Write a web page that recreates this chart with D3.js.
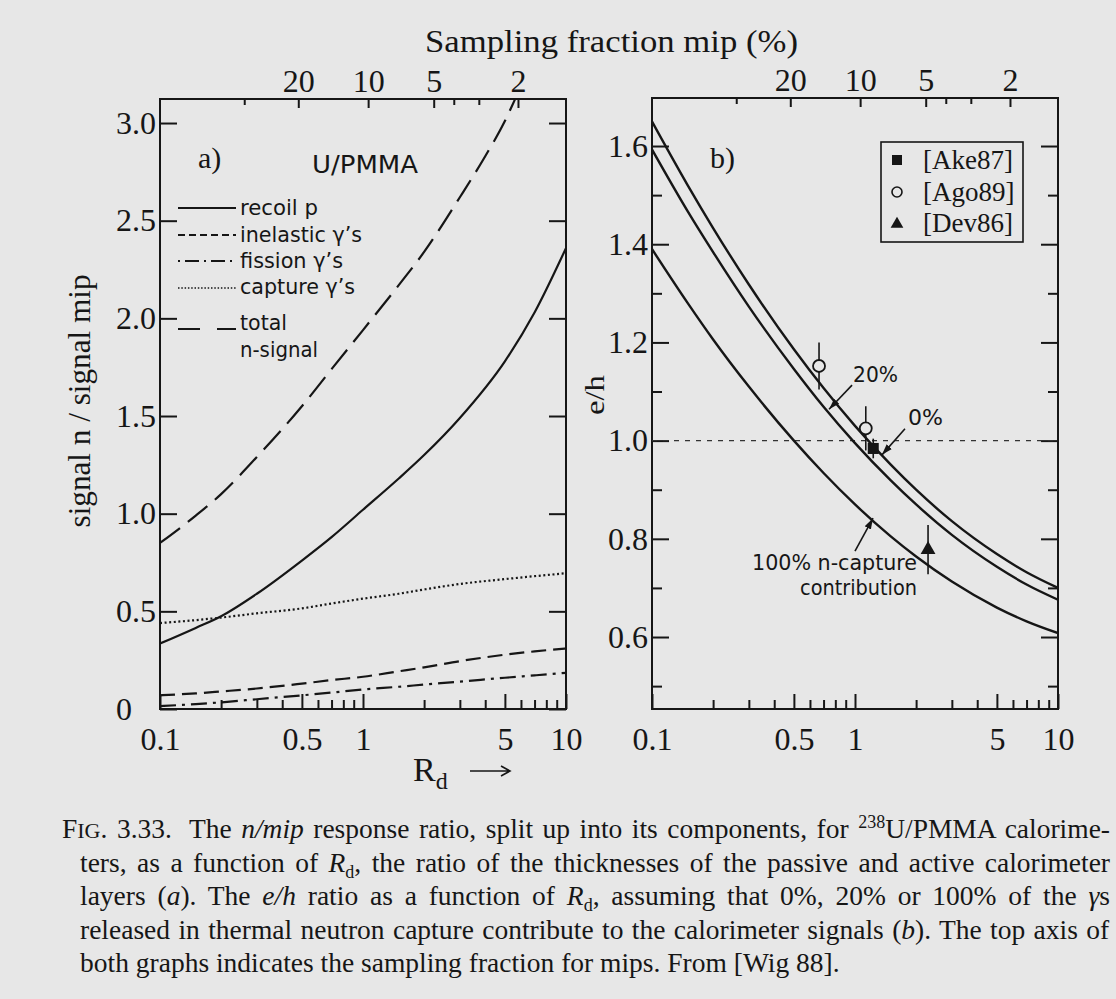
<!DOCTYPE html>
<html lang="en">
<head>
<meta charset="utf-8">
<title>n/mip components and e/h versus Rd</title>
<script src="https://d3js.org/d3.v7.min.js"></script>
<style>
  body { margin: 0; background: #e7e7e7; }
  svg { display: block; }
  .serif { font-family: "Liberation Serif", "Times New Roman", serif; fill: #161616; }
  .tech { font-family: "DejaVu Sans Condensed", "DejaVu Sans", sans-serif; fill: #161616; }
</style>
</head>
<body>
<svg id="chart" width="1116" height="999"></svg>
<script>
// ---------- values ----------
const rdGrid = [0.1, 0.15, 0.2, 0.3, 0.5, 0.7, 1, 1.5, 2, 3, 5, 7, 10];

// panel a) signal n / signal mip
const recoilP   = [0.335, 0.415, 0.475, 0.59, 0.76, 0.88, 1.02, 1.18, 1.3, 1.49, 1.78, 2.03, 2.36];
const inelastic = [0.07, 0.08, 0.09, 0.105, 0.13, 0.148, 0.165, 0.193, 0.213, 0.245, 0.278, 0.295, 0.31];
const fission   = [0.015, 0.025, 0.034, 0.05, 0.07, 0.084, 0.1, 0.114, 0.125, 0.14, 0.16, 0.172, 0.185];
const capture   = [0.44, 0.455, 0.468, 0.49, 0.515, 0.54, 0.565, 0.59, 0.612, 0.64, 0.665, 0.68, 0.695];
const totalRd   = [0.1, 0.15, 0.2, 0.3, 0.5, 0.7, 1, 1.5, 2, 3, 4, 5, 5.6];
const totalN    = [0.85, 0.99, 1.1, 1.29, 1.55, 1.74, 1.94, 2.17, 2.34, 2.62, 2.83, 3.01, 3.12];

// panel b) e/h for 0 %, 20 %, 100 % n-capture contribution
const eh0   = [1.65, 1.52, 1.433, 1.318, 1.186, 1.107, 1.03, 0.951, 0.9, 0.836, 0.769, 0.732, 0.70];
const eh20  = [1.593, 1.467, 1.384, 1.273, 1.146, 1.069, 0.995, 0.919, 0.87, 0.808, 0.743, 0.707, 0.676];
const eh100 = [1.39, 1.28, 1.206, 1.11, 1.0, 0.934, 0.87, 0.805, 0.764, 0.713, 0.66, 0.632, 0.608];

// measurements: [Rd, e/h, error]
const ake87 = [[1.23, 0.984, 0.02]];
const ago89 = [[0.665, 1.152, 0.048], [1.13, 1.025, 0.045]];
const dev86 = [[2.29, 0.778, 0.05]];

// axes
const bottomMajor = [0.1, 0.5, 1, 5, 10];
const bottomMinor = [0.2, 0.3, 0.4, 0.6, 0.7, 0.8, 0.9, 2, 3, 4, 6, 7, 8, 9];
const topTickLabels = ["20", "10", "5", "2"];
const topTickRd = [0.48, 1.06, 2.23, 5.8];
const topMinorRd = [0.26, 2.8, 3.72];
const yTicksA = [0, 0.5, 1, 1.5, 2, 2.5, 3];
const yTicksB = [0.6, 0.8, 1.0, 1.2, 1.4, 1.6];
const yMinorB = [0.5, 0.7, 0.9, 1.1, 1.3, 1.5];

const legendNames = ["recoil p", "inelastic γ’s", "fission γ’s", "capture γ’s", "total"];
const refNames = ["[Ake87]", "[Ago89]", "[Dev86]"];

// ---------- drawing ----------
const ink = "#161616";
const bg = "#e7e7e7";
const svg = d3.select("#chart");
svg.append("rect").attr("width", 1116).attr("height", 999).attr("fill", bg);

const xA = d3.scaleLog().domain([0.1, 10]).range([160, 566]);
const yA = d3.scaleLinear().domain([0, 3.123]).range([709, 99]);
const xB = d3.scaleLog().domain([0.1, 10]).range([652, 1058]);
const yB = d3.scaleLinear().domain([0.4534, 1.6978]).range([709, 98]);

svg.append("defs").append("marker")
    .attr("id", "head")
    .attr("markerUnits", "userSpaceOnUse")
    .attr("markerWidth", 12).attr("markerHeight", 8)
    .attr("refX", 11).attr("refY", 4)
    .attr("orient", "auto")
  .append("path").attr("d", "M0,0.5 L11,4 L0,7.5 Z").attr("fill", ink);

function frame(x, y, id, yMajor, yMinor, yFmt) {
    const [X0, X1] = x.range();
    const [Y1, Y0] = y.range();
    const g = svg.append("g").attr("color", ink);

    g.append("g").attr("transform", `translate(0,${Y1})`)
        .call(d3.axisBottom(x).tickValues(bottomMajor).tickSize(-15).tickPadding(18).tickFormat(d => String(d)));
    g.append("g").attr("transform", `translate(0,${Y1})`)
        .call(d3.axisBottom(x).tickValues(bottomMinor).tickSize(-9).tickFormat(""));
    g.append("g").attr("transform", `translate(0,${Y0})`)
        .call(d3.axisTop(x).tickValues(topTickRd).tickSize(-9).tickPadding(7).tickFormat((d, i) => topTickLabels[i]));
    g.append("g").attr("transform", `translate(0,${Y0})`)
        .call(d3.axisTop(x).tickValues(topMinorRd).tickSize(-6).tickFormat(""));

    const left = g.append("g").attr("transform", `translate(${X0},0)`)
        .call(d3.axisLeft(y).tickValues(yMajor).tickSize(-17).tickFormat(yFmt));
    left.selectAll("text").attr("x", -44).attr("text-anchor", "start");
    g.append("g").attr("transform", `translate(${X1},0)`)
        .call(d3.axisRight(y).tickValues(yMajor).tickSize(-17).tickFormat(""));
    if (yMinor) {
        g.append("g").attr("transform", `translate(${X0},0)`)
            .call(d3.axisLeft(y).tickValues(yMinor).tickSize(-10).tickFormat(""));
        g.append("g").attr("transform", `translate(${X1},0)`)
            .call(d3.axisRight(y).tickValues(yMinor).tickSize(-10).tickFormat(""));
    }
    g.selectAll(".domain").remove();
    g.selectAll(".tick line").attr("stroke-width", 2);
    g.selectAll("text").attr("class", "serif").attr("font-size", 32);

    svg.append("rect")
        .attr("x", X0).attr("y", Y0).attr("width", X1 - X0).attr("height", Y1 - Y0)
        .attr("fill", "none").attr("stroke", ink).attr("stroke-width", 2);

    svg.append("clipPath").attr("id", id)
      .append("rect").attr("x", X0).attr("y", Y0).attr("width", X1 - X0).attr("height", Y1 - Y0);
}

frame(xA, yA, "clipA", yTicksA, null, d => d === 0 ? "0" : d3.format(".1f")(d));
frame(xB, yB, "clipB", yTicksB, yMinorB, d3.format(".1f"));

// ---------- panel a ----------
const lineA = d3.line().x(d => xA(d[0])).y(d => yA(d[1])).curve(d3.curveMonotoneX);
const seriesA = [
    { v: d3.zip(rdGrid, recoilP),   dash: null },
    { v: d3.zip(rdGrid, inelastic), dash: "15,7" },
    { v: d3.zip(rdGrid, fission),   dash: "16,6,3,6" },
    { v: d3.zip(rdGrid, capture),   dash: "2,2.6" },
    { v: d3.zip(totalRd, totalN),   dash: "25,10" }
];
svg.append("g").attr("clip-path", "url(#clipA)")
  .selectAll("path").data(seriesA).join("path")
    .attr("d", d => lineA(d.v))
    .attr("fill", "none").attr("stroke", ink).attr("stroke-width", 2.2)
    .attr("stroke-dasharray", d => d.dash);

svg.append("text").attr("class", "serif").attr("x", 198).attr("y", 168).attr("font-size", 30).text("a)");
svg.append("text").attr("class", "tech").attr("x", 312).attr("y", 173).attr("font-size", 24)
    .attr("textLength", 106).attr("lengthAdjust", "spacingAndGlyphs").text("U/PMMA");

// legend a
const legDash = [null, "7,4", "2,5,14,5", "1.5,1.8", "22,17,22"];
const legLineY = [208, 235, 261, 288, 329];
const legTextY = [215, 242, 268, 294, 330];
const legTextW = [78, 122, 103, 115, 47];
const legA = svg.append("g");
legendNames.forEach((name, i) => {
    legA.append("line").attr("x1", 178).attr("x2", 236).attr("y1", legLineY[i]).attr("y2", legLineY[i])
        .attr("stroke", ink).attr("stroke-width", i === 3 ? 1.6 : 2).attr("stroke-dasharray", legDash[i]);
    legA.append("text").attr("class", "tech").attr("x", 240).attr("y", legTextY[i]).attr("font-size", 21)
        .attr("textLength", legTextW[i]).attr("lengthAdjust", "spacingAndGlyphs").text(name);
});
legA.append("text").attr("class", "tech").attr("x", 240).attr("y", 357).attr("font-size", 21)
    .attr("textLength", 78).attr("lengthAdjust", "spacingAndGlyphs").text("n-signal");

// ---------- panel b ----------
const lineB = d3.line().x(d => xB(d[0])).y(d => yB(d[1])).curve(d3.curveMonotoneX);
svg.append("line")
    .attr("x1", xB(0.1)).attr("x2", xB(10)).attr("y1", yB(1)).attr("y2", yB(1))
    .attr("stroke", "#333").attr("stroke-width", 1.3).attr("stroke-dasharray", "5,6");
svg.append("g").attr("clip-path", "url(#clipB)")
  .selectAll("path").data([eh0, eh20, eh100]).join("path")
    .attr("d", d => lineB(d3.zip(rdGrid, d)))
    .attr("fill", "none").attr("stroke", ink).attr("stroke-width", 2.4);

const pts = svg.append("g");
const allPts = [...ake87, ...ago89, ...dev86];
pts.selectAll("line.err").data(allPts).join("line")
    .attr("x1", d => xB(d[0])).attr("x2", d => xB(d[0]))
    .attr("y1", d => yB(d[1] - d[2])).attr("y2", d => yB(d[1] + d[2]))
    .attr("stroke", ink).attr("stroke-width", 1.6);
pts.selectAll("rect.ake").data(ake87).join("rect")
    .attr("x", d => xB(d[0]) - 5.5).attr("y", d => yB(d[1]) - 5.5)
    .attr("width", 11).attr("height", 11).attr("fill", ink);
pts.selectAll("circle.ago").data(ago89).join("circle")
    .attr("cx", d => xB(d[0])).attr("cy", d => yB(d[1])).attr("r", 6)
    .attr("fill", bg).attr("stroke", ink).attr("stroke-width", 1.8);
pts.selectAll("path.dev").data(dev86).join("path")
    .attr("d", d3.symbol(d3.symbolTriangle, 95))
    .attr("transform", d => `translate(${xB(d[0])},${yB(d[1])})`)
    .attr("fill", ink);

svg.append("text").attr("class", "serif").attr("x", 710).attr("y", 168).attr("font-size", 30).text("b)");

// annotations in data coordinates
const notes = [
    { t: "20%", rd: 0.978, v: 1.119, w: 45 },
    { t: "0%", rd: 1.825, v: 1.032, w: 35 },
    { t: "100% n-capture", rd: 0.311, v: 0.736, w: 165 },
    { t: "contribution", rd: 0.536, v: 0.686, w: 117 }
];
svg.selectAll("text.note").data(notes).join("text")
    .attr("class", "tech").attr("x", d => xB(d.rd)).attr("y", d => yB(d.v)).attr("font-size", 22)
    .attr("textLength", d => d.w).attr("lengthAdjust", "spacingAndGlyphs").text(d => d.t);
const arrows = [
    { from: [0.967, 1.113], to: [0.745, 1.064] },
    { from: [1.763, 1.024], to: [1.358, 0.971] },
    { from: [1.0, 0.775], to: [1.227, 0.842] }
];
svg.selectAll("line.arrow").data(arrows).join("line")
    .attr("x1", d => xB(d.from[0])).attr("y1", d => yB(d.from[1]))
    .attr("x2", d => xB(d.to[0])).attr("y2", d => yB(d.to[1]))
    .attr("stroke", ink).attr("stroke-width", 1.6).attr("marker-end", "url(#head)");

// legend b
const legB = svg.append("g");
legB.append("rect").attr("x", 881).attr("y", 142).attr("width", 142).attr("height", 100)
    .attr("fill", "none").attr("stroke", ink).attr("stroke-width", 1.6);
legB.append("rect").attr("x", 892).attr("y", 155).attr("width", 10).attr("height", 10).attr("fill", ink);
legB.append("circle").attr("cx", 897).attr("cy", 192).attr("r", 5)
    .attr("fill", "none").attr("stroke", ink).attr("stroke-width", 1.6);
legB.append("path").attr("d", d3.symbol(d3.symbolTriangle, 70)).attr("transform", "translate(897,224)").attr("fill", ink);
refNames.forEach((n, i) => {
    legB.append("text").attr("class", "serif").attr("x", 923).attr("y", 169 + i * 31.5)
        .attr("font-size", 27).text(n);
});

// ---------- axis titles ----------
svg.append("text").attr("class", "serif").attr("x", 425).attr("y", 52).attr("font-size", 31)
    .attr("textLength", 373).attr("lengthAdjust", "spacingAndGlyphs").text("Sampling fraction mip (%)");
svg.append("text").attr("class", "serif").attr("transform", "translate(90,401) rotate(-90)")
    .attr("text-anchor", "middle").attr("font-size", 31)
    .attr("textLength", 253).attr("lengthAdjust", "spacingAndGlyphs").text("signal n / signal mip");
svg.append("text").attr("class", "serif").attr("transform", "translate(604,395) rotate(-90)")
    .attr("text-anchor", "middle").attr("font-size", 28)
    .attr("textLength", 40).attr("lengthAdjust", "spacingAndGlyphs").text("e/h");
const rdLab = svg.append("text").attr("class", "serif").attr("x", 413).attr("y", 781).attr("font-size", 34);
rdLab.append("tspan").text("R");
rdLab.append("tspan").attr("dy", 8).attr("font-size", 24).text("d");
svg.append("path").attr("d", "M470,771 H509 M501,766 L510,771 L501,776")
    .attr("fill", "none").attr("stroke", ink).attr("stroke-width", 1.6);

// ---------- caption ----------
const captionLines = [
    [{ t: "F" }, { t: "IG", sc: true }, { t: ". 3.33." }, { t: " The ", gap: 8 }, { t: "n/mip", i: true },
     { t: " response ratio, split up into its components, for " }, { t: "238", sup: true }, { t: "U/PMMA calorime-" }],
    [{ t: "ters, as a function of " }, { t: "R", i: true }, { t: "d", sub: true },
     { t: ", the ratio of the thicknesses of the passive and active calorimeter" }],
    [{ t: "layers (" }, { t: "a", i: true }, { t: "). The " }, { t: "e/h", i: true }, { t: " ratio as a function of " },
     { t: "R", i: true }, { t: "d", sub: true }, { t: ", assuming that 0%, 20% or 100% of the " }, { t: "γ", i: true }, { t: "s" }],
    [{ t: "released in thermal neutron capture contribute to the calorimeter signals (" }, { t: "b", i: true },
     { t: "). The top axis of" }],
    [{ t: "both graphs indicates the sampling fraction for mips. From [Wig 88]." }]
];
captionLines.forEach((segs, li) => {
    const x0 = li === 0 ? 62 : 80;
    const t = svg.append("text").attr("class", "serif")
        .attr("x", x0).attr("y", 838 + li * 33.5).attr("font-size", 27.5);
    let shift = 0;
    segs.forEach(s => {
        const target = s.sup ? -10 : s.sub ? 6 : 0;
        const ts = t.append("tspan").attr("dy", target - shift).text(s.t);
        shift = target;
        if (s.i) ts.attr("font-style", "italic");
        if (s.sup || s.sub) ts.attr("font-size", 18);
        if (s.sc) ts.attr("font-size", 22);
        if (s.gap) ts.attr("dx", s.gap);
    });
    if (li < captionLines.length - 1) {
        const full = segs.map(s => s.t).join("");
        const spaces = (full.match(/ /g) || []).length;
        const w = t.node().getBBox().width;
        t.style("word-spacing", ((1110 - x0 - w) / spaces) + "px");
    }
});
</script>
</body>
</html>
